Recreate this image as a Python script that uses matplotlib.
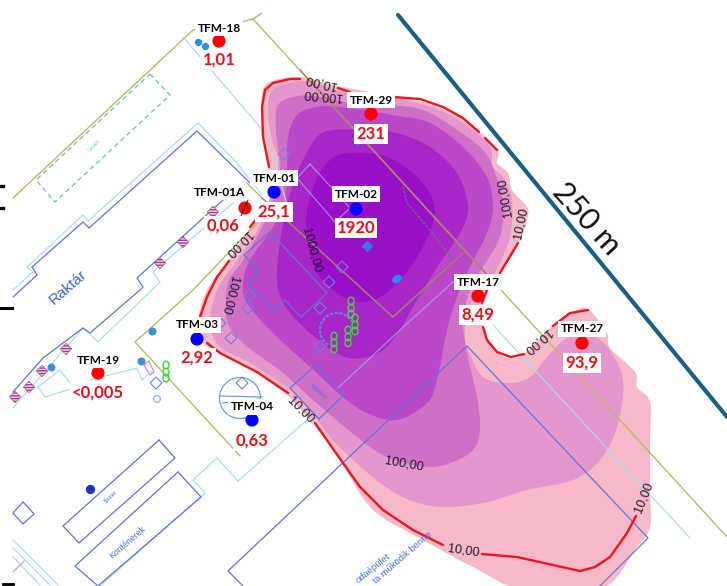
#!/usr/bin/env python3
import matplotlib
matplotlib.use("Agg")
import matplotlib.pyplot as plt
from matplotlib.patches import PathPatch, Polygon, Circle, Arc, Ellipse
from matplotlib.path import Path

plt.rcParams["font.family"] = ["Lato", "DejaVu Sans"]

# wells, in picture pixels
well_names = ["TFM-18", "TFM-29", "TFM-01", "TFM-01A", "TFM-02", "TFM-17", "TFM-27", "TFM-03", "TFM-04", "TFM-19"]
well_values = ["1,01", "231", "25,1", "0,06", "1920", "8,49", "93,9", "2,92", "0,63", "<0,005"]
well_x = [219, 371, 274, 245, 356, 478, 582, 197, 252, 98]
well_y = [41, 114, 192, 208, 209, 296, 343, 339, 420, 373]
well_colors = ["red", "red", "blue", "red", "blue", "red", "red", "blue", "blue", "red"]
name_x = [219, 371, 274, 219, 356, 478, 582, 197, 252, 98]
name_y = [28, 100, 178, 192, 194, 282, 329, 325, 407, 360]
value_x = [219, 371, 274, 223, 356, 478, 582, 197, 252, 98]
value_y = [60, 134, 212, 226, 228, 315, 363, 358, 441, 393]

# plume bands, outermost first
band_colors = ["#f6b9c8", "#e596cc", "#cf6fc6", "#bb48c8", "#a826c8", "#9a10c8"]
band_0 = [(262, 95), (270, 82), (300, 77), (337, 86), (393, 96), (433, 105), (470, 124), (497, 150), (497, 163),
          (508, 173), (512, 190), (527, 207), (527, 220), (518, 245), (500, 273), (483, 303), (483, 327), (497, 352),
          (511, 358), (524, 354), (553, 325), (573, 312), (588, 309), (607, 333), (610, 348), (635, 372), (637, 387),
          (650, 402), (650, 440), (650, 490), (650, 527), (637, 547), (600, 590), (523, 590), (473, 567), (423, 540),
          (373, 510), (343, 465), (317, 429), (287, 395), (250, 367), (205, 345), (198, 323), (207, 290), (230, 258),
          (257, 217), (270, 197), (268, 167), (262, 125)]
band_1 = [(272, 90), (293, 82), (310, 82), (343, 92), (393, 98), (437, 109), (470, 128), (490, 147), (493, 167),
          (503, 177), (512, 200), (510, 237), (498, 267), (487, 287), (470, 305), (465, 330), (467, 347), (483, 377),
          (510, 383), (530, 377), (547, 357), (567, 338), (587, 333), (607, 347), (623, 380), (617, 427), (600, 460),
          (573, 480), (527, 490), (483, 503), (440, 507), (407, 499), (380, 483), (353, 460), (333, 440), (317, 420),
          (290, 390), (250, 363), (220, 347), (210, 323), (217, 290), (237, 260), (260, 225), (278, 167), (272, 140),
          (268, 113)]
band_2 = [(278, 105), (297, 96), (320, 97), (350, 103), (390, 105), (423, 110), (453, 127), (483, 150), (495, 173),
          (503, 203), (500, 237), (483, 267), (470, 290), (463, 320), (467, 353), (477, 397), (480, 430), (473, 450),
          (453, 462), (427, 467), (387, 457), (357, 437), (313, 400), (283, 373), (243, 343), (227, 320),
          (228, 283), (242, 262), (258, 235), (272, 205), (280, 170), (276, 130)]
band_3 = [(297, 115), (317, 107), (340, 107), (393, 115), (430, 123), (463, 147), (487, 177), (493, 207),
          (487, 233), (470, 267), (457, 297), (447, 330), (437, 380), (427, 403), (397, 420), (367, 413), (343, 397),
          (310, 367), (273, 333), (247, 303), (243, 283), (250, 260), (273, 227), (285, 200), (287, 170), (288, 137)]
band_4 = [(333, 130), (370, 130), (397, 133), (430, 147), (457, 173), (468, 207), (460, 233), (440, 263),
          (417, 300), (400, 330), (383, 350), (363, 358), (340, 355), (310, 333), (283, 303), (277, 273), (282, 230),
          (292, 187), (303, 160), (317, 137)]
band_5 = [(350, 153), (387, 157), (420, 180), (435, 210), (423, 247), (400, 280), (380, 297), (360, 302), (343, 297),
          (317, 272), (306, 225), (315, 183), (330, 160)]
bands = [band_0, band_1, band_2, band_3, band_4, band_5]

# the red 10,00 contour, broken at labels
red_segments = [
    [(269, 167), (263, 137), (262, 107), (265, 90), (273, 83), (290, 79), (300, 79)],
    [(338, 88), (350, 92)],
    [(393, 97), (420, 99), (443, 107), (463, 118), (479, 132)],
    [(485, 138), (497, 150)],
    [(518, 243), (500, 273)],
    [(488, 287), (482, 303)],
    [(483, 327), (487, 340), (497, 352), (511, 357), (524, 354)],
    [(553, 326), (570, 313), (588, 310)],
    [(636, 516), (627, 533), (610, 557), (595, 567), (580, 571), (553, 565), (517, 557), (482, 554)],
    [(443, 545), (413, 530), (383, 510), (360, 487), (343, 463), (315, 423)],
    [(288, 393), (257, 372), (220, 353), (207, 343)],
    [(200, 317), (207, 297), (217, 277), (229, 261)],
    [(250, 227), (258, 217)],
    [(270, 195), (273, 190)],
]

# contour labels: text, x, y, rotation
contour_text = ["10,00", "100,00", "10,00", "1000,00", "100,00", "10,00", "100,00", "10,00", "10,00", "100,00", "10,00", "10,00"]
contour_x = [320, 322, 238, 311, 230, 300, 505, 521, 537, 404, 463, 644]
contour_y = [82, 95, 243, 250, 295, 410, 198, 223, 341, 464, 551, 497]
contour_rot = [167, 175, 225, -75, 256, -45, 100, 78, 221, -10, -8, 68]

# site plan
property_line = [(253, 19), (727, 537)]
property_top = [(193, 30), (233, 24), (253, 19), (262, 13)]
property_left = [(13, 198), (193, 30)]
property_lower = [(257, 223), (193, 290), (135, 342), (240, 456)]
property_short = [(247, 183), (262, 198)]
brown_a = [(300, 70), (490, 278)]
brown_b = [(262, 198), (393, 317), (463, 253)]
dash_gray = [(403, 187), (407, 203), (430, 230), (453, 260)]

garage = [(150, 74), (170, 95), (55, 202), (36, 180), (150, 74)]

blue_lines = [
    [(13, 297), (37, 275), (32, 267), (83, 222), (89, 228), (197, 131), (250, 183)],
    [(223, 200), (137, 278), (143, 287), (140, 290), (90, 333), (83, 328), (43, 358), (13, 392)],
    [(159, 440), (175, 458), (79, 543), (63, 526), (159, 440)],
    [(178, 472), (201, 497), (98, 586), (75, 566), (178, 472)],
    [(23, 502), (34, 514), (23, 524), (13, 513), (23, 502)],
    [(243, 586), (228, 571), (467, 346), (648, 538), (600, 586)],
    [(316, 365), (344, 395), (319, 419), (290, 388), (316, 365)],
    [(270, 232), (244, 255), (259, 272), (248, 283), (274, 311), (285, 300), (301, 317), (327, 293), (270, 232)],
]
pale_blue_lines = [
    [(183, 37), (260, 127), (273, 157), (290, 215)],
    [(13, 290), (33, 272), (27, 267), (83, 215), (88, 221), (198, 123), (237, 163), (262, 195)],
    [(233, 203), (153, 272), (160, 282), (98, 342), (83, 328), (13, 408)],
    [(38, 387), (60, 370), (74, 388), (45, 397), (38, 387)],
    [(90, 380), (137, 368), (142, 380), (153, 370)],
    [(238, 481), (217, 458), (193, 480), (205, 493), (100, 586)],
    [(238, 481), (307, 420)],
    [(493, 325), (690, 538)],
    [(13, 540), (58, 585)],
    [(13, 548), (50, 585)],
    [(13, 557), (40, 585)],
]
lavender_lines = [
    [(338, 388), (400, 330), (453, 282), (470, 297)],
    [(310, 164), (350, 208), (335, 222), (297, 178), (310, 164)],
    [(470, 297), (493, 325)],
]

small_sq_x = [284, 250, 248, 231, 220, 329, 342, 320, 320, 156, 242]
small_sq_y = [154, 295, 308, 338, 323, 282, 267, 346, 308, 383, 383]
hatch_x = [160, 183, 213, 66, 42, 29, 15]
hatch_y = [263, 242, 212, 349, 371, 387, 397]
green_x = [351, 355, 348, 334, 166]
green_y = [308, 325, 337, 343, 372]


def smooth_patch(points, **kw):
    # closed bezier outline through the given points
    n = len(points)
    verts = [points[0]]
    codes = [Path.MOVETO]
    for i in range(n):
        p0, p1, p2, p3 = points[i - 1], points[i], points[(i + 1) % n], points[(i + 2) % n]
        c1 = (p1[0] + (p2[0] - p0[0]) / 6, p1[1] + (p2[1] - p0[1]) / 6)
        c2 = (p2[0] - (p3[0] - p1[0]) / 6, p2[1] - (p3[1] - p1[1]) / 6)
        verts += [c1, c2, p2]
        codes += [Path.CURVE4, Path.CURVE4, Path.CURVE4]
    return PathPatch(Path(verts, codes), **kw)


def polyline(ax, points, **kw):
    ax.plot([p[0] for p in points], [p[1] for p in points], solid_capstyle="round", **kw)


fig = plt.figure(figsize=(7.27, 5.86), dpi=100)
ax = fig.add_axes([0, 0, 1, 1])
ax.set_xlim(0, 727)
ax.set_ylim(586, 0)
ax.axis("off")

for pts, col in zip(bands, band_colors):
    ax.add_patch(smooth_patch(pts, facecolor=col, edgecolor="none", zorder=1))

olive = "#bdb66a"
for line in [property_line, property_top, property_left, property_lower, property_short]:
    polyline(ax, line, color=olive, lw=1.0, zorder=2)
polyline(ax, brown_a, color="#a9806c", lw=1.1, zorder=2.1)
polyline(ax, brown_b, color="#a9806c", lw=1.1, zorder=2.1)
polyline(ax, dash_gray, color="#6f6a98", lw=1.0, ls=(0, (2, 1)), zorder=2.1)
polyline(ax, garage, color="#74c4c0", lw=1.0, ls=(0, (3.5, 2.5)), zorder=2)

for line in pale_blue_lines:
    polyline(ax, line, color="#a9dcef", lw=0.85, zorder=2)
for line in blue_lines:
    polyline(ax, line, color="#6273d8", lw=0.9, zorder=2.2)
for line in lavender_lines:
    polyline(ax, line, color="#b4a8ee", lw=0.85, alpha=0.75, zorder=2.2)

ax.scatter(small_sq_x, small_sq_y, marker="D", s=36, facecolor="none", edgecolor="#6f80e0", lw=0.8, zorder=2.3)
ax.scatter(hatch_x, hatch_y, marker="D", s=34, facecolor="#f4dcea", edgecolor="#a03c88", hatch="------", lw=0.4, zorder=2.3)
ax.scatter([367, 357], [246, 140], marker="D", s=24, color="#3a7ae0", zorder=2.3)
ax.add_patch(Ellipse((397, 279), 9, 6, angle=-35, color="#2a8cf0", zorder=2.3))
ax.scatter([152, 141, 51], [331, 361, 367], marker="o", s=22, color="#3a90d8", zorder=2.3)
ax.scatter([90], [489], marker="o", s=32, color="#2030c8", zorder=2.3)
ax.scatter([157], [399], marker="o", s=24, facecolor="none", edgecolor="#88aadd", lw=0.8, zorder=2.3)
ax.scatter([198, 205], [42, 46], marker="o", s=18, color="#2f8fe0", zorder=2.3)
ax.add_patch(Polygon([(144, 365), (149, 361), (154, 372), (150, 375)], facecolor="none", edgecolor="#d090c8", lw=0.9))

# building with the round tank, and the circle by TFM-04
ax.add_patch(Arc((337, 330), 34, 34, theta1=120, theta2=330, color="#6a7de0", lw=1.6, ls=(0, (1.5, 0.6)), zorder=2.3))
ax.add_patch(Circle((240, 398), 20.5, facecolor="none", edgecolor="#6aa0e0", lw=0.9, zorder=2))
polyline(ax, [(220, 396), (262, 397)], color="#6aa0e0", lw=0.9, zorder=2)
polyline(ax, [(222, 403), (259, 399)], color="#6aa0e0", lw=0.9, zorder=2)

for gx, gy in zip(green_x, green_y):
    for off in (-7, 0, 6):
        ax.add_patch(Ellipse((gx, gy + off), 6, 7.5, facecolor="none", edgecolor="#3ed83a", lw=1.0, zorder=2.4))

# black bits cut off at the left border
ax.plot([0, 3], [186, 186], color="black", lw=2.4, zorder=2)
ax.plot([0, 3], [208, 208], color="black", lw=2.4, zorder=2)
ax.plot([0, 12], [308, 308], color="black", lw=2.2, zorder=2)
ax.plot([3, 13], [584, 584], color="black", lw=2.0, zorder=2)
polyline(ax, [(13, 572), (24, 561)], color="#d8a0d8", lw=1.0, zorder=2)

for segment in red_segments:
    polyline(ax, segment, color="#ee1520", lw=1.7, zorder=3)

for txt, x, y, rot in zip(contour_text, contour_x, contour_y, contour_rot):
    ax.text(x, y, txt, rotation=rot, rotation_mode="anchor", ha="center", va="center",
            fontsize=9.2, color="#221a2a", family=["Liberation Sans", "DejaVu Sans"], zorder=4)

blue_txt = "#4a6ee0"
ax.text(68, 287, "Raktár", rotation=41, rotation_mode="anchor", ha="center", va="center", fontsize=11, color="#3a66d8",
        family=["Liberation Sans"], zorder=3)
ax.text(94, 145, "Garázs", rotation=45, rotation_mode="anchor", ha="center", va="center", fontsize=3.8, color="#74c4c0", zorder=3)
ax.text(110, 497, "Épület", rotation=42, rotation_mode="anchor", ha="center", va="center", fontsize=4, color=blue_txt, zorder=3)
ax.text(128, 542, "Konténerek", rotation=41, rotation_mode="anchor", ha="center", va="center", fontsize=6.3, color=blue_txt,
        family=["Liberation Sans"], zorder=3)
ax.text(318, 392, "Konténer", rotation=-42, rotation_mode="anchor", ha="center", va="center", fontsize=3.5, color=blue_txt, zorder=3)
ax.text(373, 568, "odaépület", rotation=39, rotation_mode="anchor", ha="center", va="center", fontsize=6.8, color=blue_txt,
        family=["Liberation Sans"], zorder=3)
ax.text(403, 558, "ta működik benne", rotation=41, rotation_mode="anchor", ha="center", va="center", fontsize=6.8, color=blue_txt,
        family=["Liberation Sans"], zorder=3)

ax.scatter(well_x, well_y, c=well_colors, s=90, lw=0, zorder=5)
polyline(ax, [(241, 216), (248, 200)], color="#202020", lw=0.7, zorder=5.1)
box = dict(facecolor="white", edgecolor="none", pad=1.6)
for n, x, y in zip(well_names, name_x, name_y):
    ax.text(x, y, n, ha="center", va="center", fontsize=8.6, fontweight="bold", color="black", bbox=box, zorder=6)
for v, x, y in zip(well_values, value_x, value_y):
    ax.text(x, y, v, ha="center", va="center", fontsize=12, fontweight="bold", color="#e8101c", bbox=box, zorder=6)

# scale line
polyline(ax, [(398, 15), (727, 417)], color="#1c5f80", lw=3.0, zorder=4)
ax.text(586, 219, "250 m", rotation=-48, rotation_mode="anchor", ha="center", va="center", fontsize=22, color="#111111", zorder=4)

fig.savefig("out.png", dpi=100)
